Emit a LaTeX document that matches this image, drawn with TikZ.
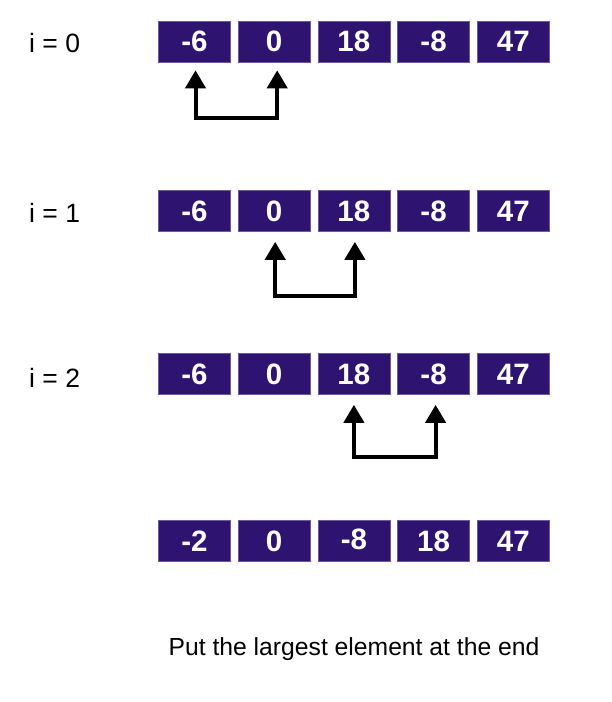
\documentclass[tikz,border=0pt]{standalone}
\usepackage{fontspec}
\setmainfont{Liberation Sans}
\usetikzlibrary{arrows.meta}
\definecolor{boxpurple}{RGB}{46,20,112}
\tikzset{
  cell/.style={fill=boxpurple, draw=boxpurple!70!white, line width=0.6pt, minimum width=72pt, minimum height=41pt, inner sep=0pt, text=white, font=\bfseries\fontsize{29.5}{32}\selectfont},
  lbl/.style={anchor=west, inner sep=0pt, font=\fontsize{26.5}{29}\selectfont},
  swap/.style={line width=4pt, {Triangle[length=18pt,width=20pt]}-{Triangle[length=18pt,width=20pt]}}
}
\begin{document}
\begin{tikzpicture}[x=1pt,y=1pt]
\useasboundingbox (0,0) rectangle (612,-702);
\foreach \v [count=\k from 0] in {-6,0,18,-8,47} {
  \node[cell] (r0c\k) at (194.5+79.7*\k,-41.5) {\v};
}
\foreach \v [count=\k from 0] in {-6,0,18,-8,47} {
  \node[cell] (r1c\k) at (194.5+79.7*\k,-211) {\v};
}
\foreach \v [count=\k from 0] in {-6,0,18,-8,47} {
  \node[cell] (r2c\k) at (194.5+79.7*\k,-374) {\v};
}
\node[cell] (r3c0) at (194.5,-541) {-2};
\node[cell] (r3c1) at (274.2,-541) {0};
\node[cell] (r3c2) at (353.9,-541) {\raisebox{3pt}{-8}};
\node[cell] (r3c3) at (433.6,-541) {\raisebox{-3pt}{18}};
\node[cell] (r3c4) at (513.3,-541) {47};
% labels
\node[lbl] (l0) at (29,-43) {i = 0};
\node[lbl] (l1) at (29,-213) {i = 1};
\node[lbl] (l2) at (29,-378) {i = 2};
\node[font=\fontsize{24.7}{28}\selectfont, inner sep=0pt] (cap) at (354,-649) {Put the largest element at the end};
% swap arrows
\draw[swap] ([xshift=1pt,yshift=-8pt]r0c0.south) -- ++(0,-48) -| ([xshift=3pt,yshift=-8pt]r0c1.south);
\draw[swap] ([xshift=1pt,yshift=-10pt]r1c1.south) -- ++(0,-54) -| ([xshift=1pt,yshift=-10pt]r1c2.south);
\draw[swap] ([xshift=0pt,yshift=-10pt]r2c2.south) -- ++(0,-52) -| ([xshift=2pt,yshift=-10pt]r2c3.south);
\end{tikzpicture}
\end{document}
